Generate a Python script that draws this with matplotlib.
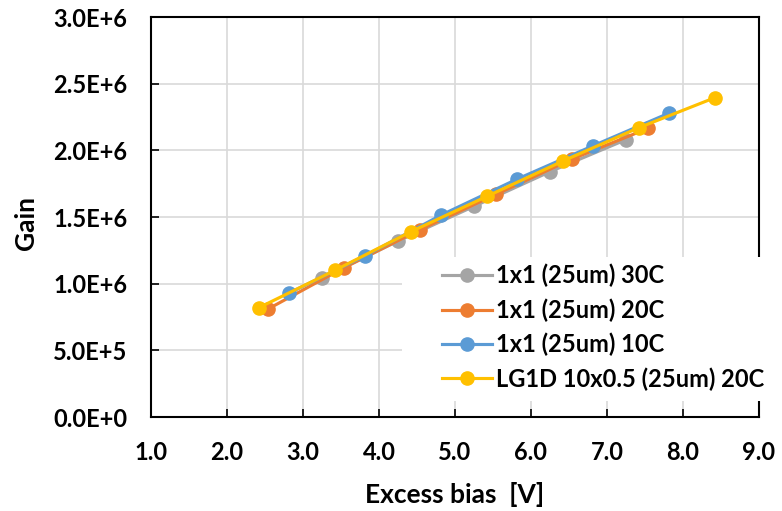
import math
import matplotlib
matplotlib.use("Agg")
import matplotlib.pyplot as plt
from matplotlib.patches import Rectangle
from matplotlib.ticker import FuncFormatter, MultipleLocator

# ---- data ----
labels = ["1x1 (25um) 30C", "1x1 (25um) 20C", "1x1 (25um) 10C", "LG1D 10x0.5 (25um) 20C"]
colors = ["#A5A5A5", "#ED7D31", "#5B9BD5", "#FFC000"]

x_30c = [3.25, 4.25, 5.25, 6.25, 7.25]
g_30c = [1.04e6, 1.32e6, 1.58e6, 1.84e6, 2.08e6]

x_20c = [2.54, 3.54, 4.54, 5.54, 6.54, 7.54]
g_20c = [0.81e6, 1.12e6, 1.405e6, 1.67e6, 1.935e6, 2.165e6]

x_10c = [2.82, 3.82, 4.82, 5.82, 6.82, 7.82]
g_10c = [0.93e6, 1.21e6, 1.515e6, 1.785e6, 2.035e6, 2.28e6]

x_lg = [2.42, 3.42, 4.42, 5.42, 6.42, 7.42, 8.42]
g_lg = [0.82e6, 1.10e6, 1.39e6, 1.655e6, 1.92e6, 2.17e6, 2.395e6]

xs = [x_30c, x_20c, x_10c, x_lg]
gs = [g_30c, g_20c, g_10c, g_lg]

plt.rcParams['font.family'] = ['Lato', 'DejaVu Sans']
plt.rcParams['font.weight'] = 'bold'

W, H = 782, 511
fig = plt.figure(figsize=(W / 100, H / 100), dpi=100)
ax = fig.add_axes([151 / W, (H - 417) / H, (759 - 151) / W, (417 - 17) / H])

handles = []
for x, g, c, lab in zip(xs, gs, colors, labels):
    h, = ax.plot(x, g, color=c, lw=2.25, marker='o', markersize=9.5,
                 markeredgecolor=c, markerfacecolor=c, label=lab, zorder=3)
    handles.append(h)

ax.set_xlim(1.0, 9.0)
ax.set_ylim(0, 3.0e6)
ax.xaxis.set_major_locator(MultipleLocator(1.0))
ax.yaxis.set_major_locator(MultipleLocator(0.5e6))
ax.xaxis.set_major_formatter(FuncFormatter(lambda v, p: f"{v:.1f}"))


def sci(v, p):
    if v == 0:
        return "0.0E+0"
    e = int(math.floor(math.log10(abs(v)) + 1e-9))
    m = v / 10 ** e
    return f"{m:.1f}E+{e}"


ax.yaxis.set_major_formatter(FuncFormatter(sci))
ax.grid(True, color="#D9D9D9", lw=1.2, zorder=0)
ax.set_axisbelow(True)
for s in ax.spines.values():
    s.set_color("black")
    s.set_linewidth(1.5)
ax.tick_params(direction='in', length=6, width=1.2, colors='black',
               labelsize=17, pad=17)
ax.tick_params(axis='x', pad=17)
for t in ax.get_xticklabels() + ax.get_yticklabels():
    t.set_fontweight('bold')

ax.set_xlabel("Excess bias  [V]", fontsize=19, fontweight='bold')
ax.set_ylabel("Gain", fontsize=19, fontweight='bold')
ax.xaxis.set_label_coords(0.5, -0.163)
ax.yaxis.set_label_coords(-0.186, 0.485)

# white legend background box that hides gridlines and right spine
rect = Rectangle((402 / W, (H - 401) / H), (775 - 402) / W, (401 - 257) / H,
                 transform=fig.transFigure, facecolor='white', edgecolor='none', zorder=1)
fig.add_artist(rect)

leg = fig.legend(handles, labels, loc='upper left',
                 bbox_to_anchor=(442 / W, (H - 264) / H),
                 frameon=False, fontsize=17, handlelength=2.1, handletextpad=0.17,
                 labelspacing=0.46, borderpad=0, borderaxespad=0)
for t in leg.get_texts():
    t.set_fontweight('bold')

fig.savefig("out.png", dpi=100)
